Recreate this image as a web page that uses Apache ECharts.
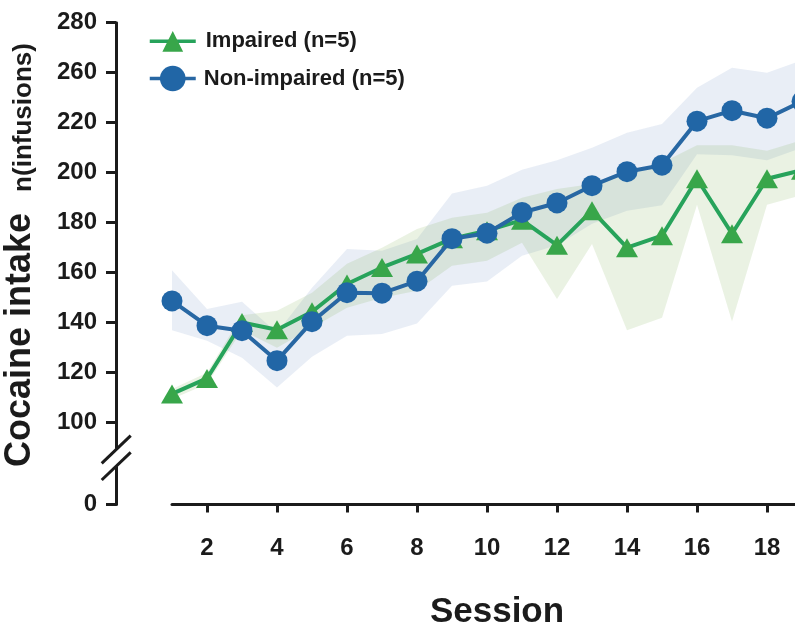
<!DOCTYPE html>
<html>
<head>
<meta charset="utf-8">
<script src="https://cdn.jsdelivr.net/npm/echarts@6/dist/echarts.min.js"></script>
<style>
html,body{margin:0;padding:0;background:#ffffff;}
#chart{width:795px;height:632px;}
</style>
</head>
<body>
<div id="chart"></div>
<script>
// ---- data ----
const sessions = [1,2,3,4,5,6,7,8,9,10,11,12,13,14,15,16,17,18,19];

const impairedMean  = [111.5,117.7,140.1,137.2,144.4,155.5,162.1,167.5,173.6,176.8,181.0,171.0,184.8,170.0,174.8,197.6,175.6,197.6,201.0];
const impairedUpper = [113.5,120.0,143.0,144.8,152.0,163.6,170.0,177.5,182.0,184.0,190.0,193.5,195.5,199.5,204.0,211.0,211.0,208.8,213.0];
const impairedLower = [109.5,115.5,137.0,130.0,138.0,146.0,150.0,152.8,162.8,164.8,172.0,149.5,171.5,137.0,142.0,187.2,140.5,187.2,191.0];

const nonImpairedMean  = [148.7,138.8,136.8,124.8,140.4,152.0,151.8,156.6,173.6,175.8,184.1,187.9,194.8,200.4,203.0,220.6,224.8,221.8,228.5];
const nonImpairedUpper = [161.0,145.5,148.4,136.0,154.0,169.5,168.8,173.5,191.7,194.8,201.2,205.0,210.0,216.0,219.5,234.0,242.0,240.0,245.0];
const nonImpairedLower = [137.0,132.8,126.0,114.1,126.4,134.8,135.5,139.7,154.8,156.5,166.8,171.0,179.6,184.8,187.0,207.4,207.0,205.0,210.0];

const yTickValues = [100,120,140,160,180,200,220,240,260];
const yTickLabels = ['100','120','140','160','180','200','220','260','280'];
const yZeroTicks  = [0];
const yZeroLabels = ['0'];
const xTickValues = [2,4,6,8,10,12,14,16,18];

const legendImpaired = 'Impaired (n=5)';
const legendNonImpaired = 'Non-impaired (n=5)';

// ---- styling ----
const FONT = "'Liberation Sans', Arial, Helvetica, sans-serif";
const INK = '#1b1b1b';
const GREEN_LINE = '#27a35b';
const GREEN_MARK = '#38a64a';
const BLUE_LINE = '#2867a3';
const BLUE_MARK = '#2166a6';
const BLUE_BAND = 'rgba(45,95,170,0.105)';
const GREEN_BAND = 'rgba(105,160,60,0.14)';

const pairs = (ys) => sessions.map((s, i) => [s, ys[i]]);
const bandData = (lo, up) => sessions.map((s, i) => [s, lo[i], up[i]]);

// whole band polygon drawn once from the data, through the axis scales
function bandRenderer(color) {
  return function (params, api) {
    if (params.dataIndex !== 0) return null;
    const n = params.dataInsideLength !== undefined ? null : null;
    const data = params.context.bandData;
    const top = [], bottom = [];
    for (let i = 0; i < data.length; i++) {
      top.push(api.coord([data[i][0], data[i][2]]));
      bottom.push(api.coord([data[i][0], data[i][1]]));
    }
    const pts = top.concat(bottom.reverse());
    return {
      type: 'polygon',
      shape: {points: pts},
      style: {fill: color, stroke: null},
      silent: true
    };
  };
}

function makeBandSeries(name, lo, up, color) {
  const d = bandData(lo, up);
  return {
    name: name, type: 'custom', xAxisIndex: 0, yAxisIndex: 0,
    data: d, encode: {x: 0, y: [1, 2]}, silent: true, z: 1,
    renderItem: function (params, api) {
      params.context.bandData = d;
      return bandRenderer(color)(params, api);
    }
  };
}

const chart = echarts.init(document.getElementById('chart'), null, {renderer: 'canvas'});

const axisLineStyle = {color: INK, width: 3};
const tickStyle = {color: INK, width: 3};

const option = {
  animation: false,
  backgroundColor: '#ffffff',
  grid: [
    {left: 172, right: -7, top: 22.7, height: 425, containLabel: false, outerBoundsMode: 'none'},
    {left: 172, right: -7, top: 467, height: 37.5, containLabel: false, outerBoundsMode: 'none'}
  ],
  xAxis: [
    {gridIndex: 0, type: 'value', min: 1, max: 19, show: false},
    {
      gridIndex: 1, type: 'value', min: 1, max: 19, position: 'bottom', offset: 20,
      axisLine: {show: true, lineStyle: axisLineStyle},
      axisTick: {show: true, customValues: xTickValues, length: 8, inside: false, lineStyle: tickStyle},
      axisLabel: {show: true, customValues: xTickValues, margin: 12, fontSize: 24, fontWeight: 'bold', color: INK, fontFamily: FONT},
      splitLine: {show: false},
      name: 'Session', nameLocation: 'middle', nameGap: 70,
      nameTextStyle: {fontSize: 35, fontWeight: 'bold', color: INK, fontFamily: FONT, padding: [0, 0, 0, 20]}
    }
  ],
  yAxis: [
    {
      gridIndex: 0, type: 'value', min: 90, max: 260, position: 'left', offset: 56,
      axisLine: {show: true, lineStyle: axisLineStyle},
      axisTick: {show: true, customValues: yTickValues, length: 10, lineStyle: tickStyle},
      axisLabel: {
        show: true, customValues: yTickValues, margin: 19, fontSize: 24, fontWeight: 'bold', color: INK, fontFamily: FONT,
        formatter: (v) => { const k = yTickValues.indexOf(v); return k >= 0 ? yTickLabels[k] : ''; }
      },
      splitLine: {show: false}
    },
    {
      gridIndex: 1, type: 'value', min: 0, max: 15, position: 'left', offset: 56,
      axisLine: {show: true, lineStyle: axisLineStyle},
      axisTick: {show: true, customValues: yZeroTicks, length: 10, lineStyle: tickStyle},
      axisLabel: {
        show: true, customValues: yZeroTicks, margin: 19, fontSize: 24, fontWeight: 'bold', color: INK, fontFamily: FONT,
        formatter: (v) => { const k = yZeroTicks.indexOf(v); return k >= 0 ? yZeroLabels[k] : ''; }
      },
      splitLine: {show: false}
    }
  ],
  legend: [
    {
      orient: 'vertical', left: 143, top: 25.3, itemWidth: 46, itemHeight: 26, selectedMode: false,
      data: [legendImpaired], lineStyle: {width: 3.5},
      textStyle: {fontSize: 22, fontWeight: 'bold', color: INK, fontFamily: FONT, padding: [0, 0, 0, 5]}
    },
    {
      orient: 'vertical', left: 143, top: 60.7, itemWidth: 46, itemHeight: 32, selectedMode: false,
      data: [legendNonImpaired], lineStyle: {width: 3.5},
      textStyle: {fontSize: 22, fontWeight: 'bold', color: INK, fontFamily: FONT, padding: [0, 0, 0, 3]}
    }
  ],
  series: [
    makeBandSeries('nonImpairedBand', nonImpairedLower, nonImpairedUpper, BLUE_BAND),
    makeBandSeries('impairedBand', impairedLower, impairedUpper, GREEN_BAND),
    {
      name: legendImpaired, type: 'line', xAxisIndex: 0, yAxisIndex: 0,
      data: pairs(impairedMean), symbol: 'triangle', symbolSize: [22, 19], showSymbol: true,
      lineStyle: {color: GREEN_LINE, width: 4}, itemStyle: {color: GREEN_MARK},
      emphasis: {disabled: true}, z: 3
    },
    {
      name: legendNonImpaired, type: 'line', xAxisIndex: 0, yAxisIndex: 0,
      data: pairs(nonImpairedMean), symbol: 'circle', symbolSize: 21, showSymbol: true,
      lineStyle: {color: BLUE_LINE, width: 4}, itemStyle: {color: BLUE_MARK},
      emphasis: {disabled: true}, z: 4
    }
  ],
  graphic: [
    {
      type: 'text', x: 20, y: 340, rotation: Math.PI / 2, silent: true,
      style: {text: 'Cocaine intake', fill: INK, font: "bold 36px 'Liberation Sans', Arial, sans-serif", align: 'center', verticalAlign: 'middle'}
    },
    {
      type: 'text', x: 24, y: 117.5, rotation: Math.PI / 2, silent: true,
      style: {text: 'n(infusions)', fill: INK, font: "bold 26px 'Liberation Sans', Arial, sans-serif", align: 'center', verticalAlign: 'middle'}
    },
    // axis break marks
    {type: 'line', silent: true, shape: {x1: 101.7, y1: 463.3, x2: 130.7, y2: 435.7}, style: {stroke: INK, lineWidth: 3}},
    {type: 'line', silent: true, shape: {x1: 101.7, y1: 480.0, x2: 130.7, y2: 452.3}, style: {stroke: INK, lineWidth: 3}}
  ]
};

chart.setOption(option);
</script>
</body>
</html>
